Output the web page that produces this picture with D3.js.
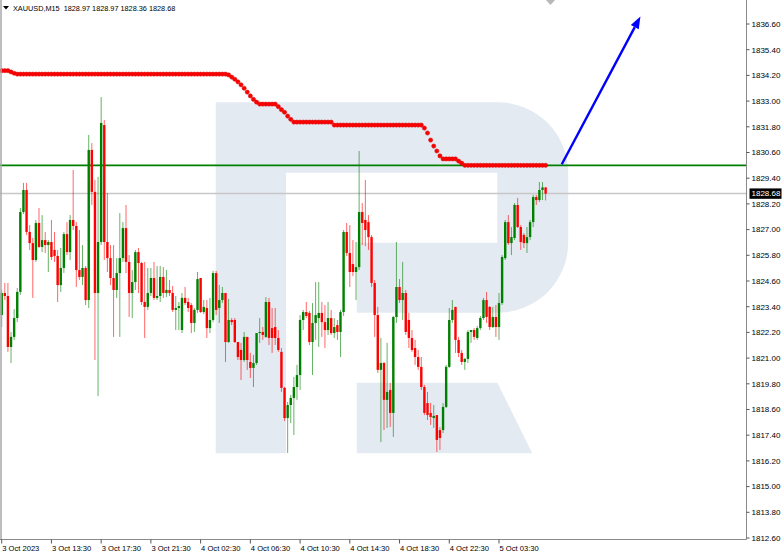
<!DOCTYPE html>
<html><head><meta charset="utf-8">
<script src="https://cdn.jsdelivr.net/npm/d3@7"></script>
<style>
html,body{margin:0;padding:0;background:#fff;}
svg text{font-family:"Liberation Sans",Arial,sans-serif;fill:#000;}
</style></head>
<body><svg id="c" width="782" height="556"></svg>
<script>
// ---- data ----
const symbolTitle = "XAUUSD,M15  1828.97 1828.97 1828.36 1828.68";
const opens = [
1823.01,1824.04,1823.90,1821.52,1821.99,1822.87,1824.09,1827.82,1828.85,1826.89,
1826.37,1825.58,1827.31,1826.19,1826.51,1826.28,1826.42,1826.05,1825.77,1824.41,
1825.21,1826.79,1825.95,1827.45,1827.17,1825.11,1824.79,1825.21,1823.71,1830.72,
1828.76,1824.04,1826.42,1831.88,1826.42,1825.67,1824.74,1824.18,1824.97,1825.67,
1827.07,1825.49,1824.04,1824.55,1825.95,1825.44,1823.62,1823.39,1824.04,1824.74,
1823.81,1823.90,1824.79,1824.04,1824.18,1824.04,1823.25,1823.34,1822.31,1823.81,
1823.62,1823.48,1822.64,1823.25,1824.74,1823.15,1823.34,1822.40,1822.78,1824.97,
1823.34,1823.71,1824.04,1821.75,1822.78,1822.78,1821.75,1821.38,1820.91,1821.99,
1820.82,1820.54,1820.77,1822.17,1822.22,1821.99,1823.62,1822.40,1822.45,1821.94,
1821.29,1819.61,1818.20,1818.81,1819.14,1819.65,1820.21,1822.78,1823.15,1823.11,
1821.75,1822.64,1822.87,1823.11,1822.68,1822.31,1822.87,1822.17,1822.54,1822.22,
1823.15,1826.89,1825.91,1825.39,1825.02,1825.25,1827.82,1827.45,1827.35,1826.65,
1824.51,1823.01,1820.45,1820.77,1819.05,1819.51,1818.44,1822.92,1824.32,1823.71,
1824.04,1822.78,1821.94,1821.47,1821.05,1820.59,1819.65,1818.90,1818.44,1818.20,
1818.34,1817.64,1817.64,1818.72,1820.59,1822.78,1823.39,1821.85,1821.24,1820.82,
1820.96,1822.22,1822.31,1821.94,1822.40,1822.87,1823.71,1823.39,1822.45,1822.92,
1822.45,1823.57,1825.67,1827.35,1826.37,1826.61,1828.15,1827.12,1826.75,1826.37,
1826.65,1827.35,1828.52,1828.38,1828.85,1828.97];
const highs = [
1824.18,1824.51,1824.51,1822.22,1823.29,1824.27,1828.01,1829.18,1829.18,1827.21,
1826.61,1827.45,1828.01,1827.68,1826.89,1826.51,1827.45,1826.89,1826.05,1826.14,
1826.89,1827.35,1827.68,1829.78,1827.35,1826.98,1826.28,1825.30,1831.42,1831.04,
1829.32,1829.46,1833.19,1832.12,1828.71,1826.28,1826.28,1825.67,1827.77,1827.35,
1828.15,1825.81,1825.11,1826.05,1826.14,1825.49,1825.49,1825.21,1825.21,1825.49,
1825.30,1825.30,1825.25,1825.11,1824.65,1824.37,1823.90,1823.62,1824.04,1824.32,
1823.81,1823.57,1823.34,1825.02,1824.74,1823.71,1823.71,1823.81,1825.07,1825.07,
1824.41,1824.32,1824.04,1823.76,1822.87,1822.87,1821.75,1821.71,1822.22,1821.99,
1821.24,1821.15,1822.17,1822.87,1822.45,1823.85,1823.81,1823.34,1823.34,1822.31,
1821.47,1819.65,1818.95,1819.28,1820.12,1820.68,1823.01,1823.25,1823.62,1823.20,
1823.57,1824.55,1824.55,1823.62,1823.48,1823.62,1823.25,1822.87,1822.78,1823.25,
1826.98,1827.31,1827.21,1826.51,1826.42,1830.67,1828.24,1829.32,1827.68,1826.75,
1824.65,1823.39,1821.94,1820.82,1821.71,1819.84,1822.97,1826.42,1824.69,1825.49,
1824.18,1823.11,1822.31,1821.85,1821.38,1821.05,1819.75,1819.42,1818.90,1818.81,
1818.34,1817.78,1818.90,1820.68,1823.34,1823.71,1823.39,1821.99,1821.38,1821.01,
1822.31,1822.31,1822.40,1822.50,1822.97,1823.81,1824.09,1823.43,1823.39,1823.48,
1824.04,1825.81,1827.45,1827.68,1827.12,1828.24,1828.48,1827.21,1826.84,1827.12,
1827.45,1828.62,1828.62,1829.22,1829.22,1828.97];
const lows = [
1822.45,1823.71,1821.29,1820.77,1821.85,1822.68,1823.95,1827.73,1826.75,1826.05,
1823.81,1825.49,1826.14,1825.95,1825.91,1825.02,1825.58,1825.49,1823.62,1824.09,
1824.97,1825.81,1825.58,1826.98,1824.32,1824.65,1824.41,1823.48,1823.34,1828.15,
1820.91,1819.23,1826.28,1825.58,1825.02,1824.41,1821.99,1823.81,1821.99,1825.49,
1824.97,1822.92,1822.87,1824.18,1824.04,1823.48,1821.94,1823.25,1823.90,1823.71,
1823.71,1823.62,1823.81,1823.85,1823.90,1823.15,1822.31,1822.31,1822.17,1823.48,
1823.15,1822.17,1822.22,1823.11,1823.11,1823.06,1821.94,1822.17,1822.68,1823.01,
1822.64,1823.57,1820.82,1821.71,1822.54,1821.71,1820.91,1819.98,1820.82,1820.45,
1820.07,1819.65,1820.68,1821.71,1821.85,1821.94,1821.61,1821.24,1821.61,1821.29,
1819.42,1818.06,1816.57,1817.97,1817.41,1819.05,1819.51,1822.31,1822.87,1821.61,
1820.21,1821.85,1821.52,1821.99,1821.47,1822.08,1822.08,1821.94,1821.85,1821.05,
1822.97,1825.77,1824.32,1824.83,1823.71,1825.11,1826.28,1826.23,1826.05,1824.32,
1821.99,1820.31,1817.08,1817.64,1817.74,1817.78,1817.32,1822.64,1823.57,1822.78,
1822.08,1821.47,1821.29,1820.68,1820.45,1819.51,1818.34,1818.11,1817.88,1817.74,
1816.62,1816.71,1817.50,1818.67,1820.54,1822.64,1821.24,1821.05,1820.68,1820.45,
1820.77,1821.71,1821.85,1821.85,1822.31,1822.78,1822.64,1822.31,1822.40,1821.99,
1821.85,1823.48,1825.58,1826.28,1825.81,1826.51,1827.07,1826.05,1826.14,1825.91,
1826.51,1827.12,1828.15,1828.29,1828.38,1828.36];
const closes = [
1824.04,1823.90,1821.52,1821.99,1822.87,1824.09,1827.82,1828.85,1826.89,1826.37,
1825.58,1827.31,1826.19,1826.51,1826.28,1826.42,1825.72,1825.77,1824.41,1825.21,
1826.79,1825.95,1827.45,1827.17,1825.11,1824.79,1825.21,1823.71,1830.72,1828.76,
1824.04,1826.42,1831.98,1826.42,1825.67,1824.74,1824.18,1824.97,1825.67,1827.07,
1825.49,1824.04,1824.55,1825.95,1825.44,1823.62,1823.39,1824.04,1824.74,1823.81,
1823.90,1824.79,1824.04,1824.18,1824.04,1823.25,1823.34,1823.43,1823.81,1823.57,
1823.34,1822.64,1823.25,1824.69,1823.15,1823.39,1822.40,1822.78,1824.97,1823.25,
1823.71,1824.04,1821.75,1822.78,1822.68,1821.75,1821.05,1820.91,1821.99,1820.91,
1820.54,1820.77,1822.17,1822.22,1822.08,1823.62,1821.94,1821.94,1821.94,1821.38,
1819.61,1818.20,1818.81,1819.14,1819.65,1820.21,1822.78,1823.15,1822.97,1821.75,
1822.64,1823.01,1823.11,1822.68,1822.31,1822.87,1822.17,1822.45,1822.22,1823.15,
1826.89,1825.91,1825.02,1825.02,1825.25,1827.82,1827.31,1826.98,1826.65,1824.51,
1823.01,1820.45,1820.77,1819.05,1819.42,1818.44,1822.92,1824.32,1823.71,1824.04,
1822.22,1821.94,1821.38,1821.05,1820.59,1819.65,1818.44,1818.34,1818.25,1818.30,
1817.18,1817.27,1818.72,1820.59,1822.78,1823.25,1821.85,1821.24,1820.82,1820.96,
1822.22,1822.31,1821.99,1822.40,1822.87,1823.71,1822.92,1822.45,1822.92,1822.45,
1823.57,1825.72,1827.35,1826.37,1826.65,1828.15,1827.12,1826.42,1826.37,1826.65,
1827.35,1828.52,1828.38,1828.85,1828.97,1828.68];
// trailing indicator (red dots), one value per bar
const indicator = [
1834.42,1834.42,1834.42,1834.36,1834.30,1834.26,1834.26,1834.26,1834.26,1834.26,
1834.26,1834.26,1834.26,1834.26,1834.26,1834.26,1834.26,1834.26,1834.26,1834.26,
1834.26,1834.26,1834.26,1834.26,1834.26,1834.26,1834.26,1834.26,1834.26,1834.26,
1834.26,1834.26,1834.26,1834.26,1834.26,1834.26,1834.26,1834.26,1834.26,1834.26,
1834.26,1834.26,1834.26,1834.26,1834.26,1834.26,1834.26,1834.26,1834.26,1834.26,
1834.26,1834.26,1834.26,1834.26,1834.26,1834.26,1834.26,1834.26,1834.26,1834.26,
1834.26,1834.26,1834.26,1834.26,1834.26,1834.26,1834.26,1834.26,1834.26,1834.26,
1834.26,1834.26,1834.26,1834.22,1834.12,1834.02,1833.90,1833.76,1833.60,1833.42,
1833.24,1833.08,1832.95,1832.86,1832.86,1832.86,1832.86,1832.86,1832.86,1832.74,
1832.60,1832.48,1832.30,1832.15,1832.02,1832.02,1832.02,1832.02,1832.02,1832.02,
1832.02,1832.02,1832.02,1832.02,1832.02,1832.02,1832.02,1831.88,1831.88,1831.88,
1831.88,1831.88,1831.88,1831.88,1831.88,1831.88,1831.88,1831.88,1831.88,1831.88,
1831.88,1831.88,1831.88,1831.88,1831.88,1831.88,1831.88,1831.88,1831.88,1831.88,
1831.88,1831.88,1831.88,1831.88,1831.88,1831.88,1831.74,1831.51,1831.18,1830.90,
1830.67,1830.44,1830.30,1830.30,1830.30,1830.30,1830.30,1830.20,1830.10,1830.00,
1830.00,1830.00,1830.00,1830.00,1830.00,1830.00,1830.00,1830.00,1830.00,1830.00,
1830.00,1830.00,1830.00,1830.00,1830.00,1830.00,1830.00,1830.00,1830.00,1830.00,
1830.00,1830.00,1830.00,1830.00,1830.00,1830.00];
const levelPrice = 1830.00;      // green horizontal level
const currentPrice = 1828.68;    // last price line
const arrowFrom = [180.2, 1830.05]; // [bar index, price]
const arrowTo = [205.5, 1836.95];
const priceTicks = [1812.60,1813.80,1815.00,1816.20,1817.40,1818.60,1819.80,1821.00,1822.20,1823.40,1824.60,1825.80,1827.00,1828.20,1829.40,1830.60,1831.80,1833.00,1834.20,1835.40,1836.60];
const timeTickIdx = [0,16,32,48,64,80,96,112,128,144,160];
const timeTickLabels = ["3 Oct 2023","3 Oct 13:30","3 Oct 17:30","3 Oct 21:30","4 Oct 02:30","4 Oct 06:30","4 Oct 10:30","4 Oct 14:30","4 Oct 18:30","4 Oct 22:30","5 Oct 03:30"];

// ---- layout ----
const W = 782, H = 556;
const plotRight = 746.5, plotBottom = 539.5;
const x = d3.scaleLinear().domain([0,160]).range([1.7, 499]);
const y = d3.scaleLinear().domain([1812.6, 1836.6]).range([538, 24]);
const svg = d3.select("#c");
svg.append("rect").attr("width",W).attr("height",H).attr("fill","#fff");

// watermark logo
const wm = svg.append("g").attr("fill","#e4eaf2");
wm.append("rect").attr("x",215.7).attr("y",102.3).attr("width",70.3).attr("height",351);
wm.append("path").attr("d","M286,102.3 H498 A70.2,70.2 0 0 1 568.2,172.5 V242.5 A70.2,70.2 0 0 1 498,312.7 H356.7 V242.7 H497.3 V172.7 H286 Z");
wm.append("path").attr("d","M356.7,382.7 H497.3 L532.3,453.3 H356.7 Z");

// current price line
svg.append("line").attr("x1",0).attr("x2",plotRight).attr("y1",y(currentPrice)).attr("y2",y(currentPrice))
  .attr("stroke","#c8c8c8").attr("stroke-width",1.5);
// green level
svg.append("line").attr("x1",0).attr("x2",plotRight).attr("y1",y(levelPrice)).attr("y2",y(levelPrice))
  .attr("stroke","#008000").attr("stroke-width",1.8);

// candles
const bars = opens.map((o,i)=>({i,o,h:highs[i],l:lows[i],c:closes[i]}));
const cg = svg.append("g");
const bull = "#008000", bear = "#ff0000";
cg.selectAll("line.w").data(bars).join("line").attr("class","w")
  .attr("x1",d=>x(d.i)).attr("x2",d=>x(d.i)).attr("y1",d=>y(d.h)).attr("y2",d=>y(d.l))
  .attr("stroke",d=>d.c>=d.o?bull:bear).attr("stroke-width",1).attr("stroke-opacity",0.6);
cg.selectAll("rect.b").data(bars).join("rect").attr("class","b")
  .attr("x",d=>x(d.i)-1.2).attr("width",2.4)
  .attr("y",d=>y(Math.max(d.o,d.c)))
  .attr("height",d=>Math.max(1,Math.abs(y(d.o)-y(d.c))))
  .attr("fill",d=>d.c>=d.o?bull:bear);

// indicator dots
svg.append("g").selectAll("circle").data(indicator).join("circle")
  .attr("cx",(d,i)=>x(i)).attr("cy",d=>y(d)).attr("r",2.1)
  .attr("fill","#ff0000").attr("stroke","#d40000").attr("stroke-width",0.5);

// arrow
const ax1 = x(arrowFrom[0]), ay1 = y(arrowFrom[1]), ax2 = x(arrowTo[0]), ay2 = y(arrowTo[1]);
const ang = Math.atan2(ay2-ay1, ax2-ax1);
const hl = 12, hw = 4.5;
const bx = ax2 - hl*Math.cos(ang), by = ay2 - hl*Math.sin(ang);
svg.append("line").attr("x1",ax1).attr("y1",ay1).attr("x2",bx).attr("y2",by)
  .attr("stroke","#0000ff").attr("stroke-width",2.4);
svg.append("path").attr("fill","#0000ff")
  .attr("d",`M${ax2},${ay2} L${bx + hw*Math.sin(ang)},${by - hw*Math.cos(ang)} L${bx - hw*Math.sin(ang)},${by + hw*Math.cos(ang)} Z`);

// frame
svg.append("line").attr("x1",1).attr("x2",1).attr("y1",0).attr("y2",plotBottom).attr("stroke","#a8a8a8").attr("stroke-width",1.5);
svg.append("line").attr("x1",plotRight).attr("x2",plotRight).attr("y1",0).attr("y2",plotBottom).attr("stroke","#8a8a8a").attr("stroke-width",1);
svg.append("line").attr("x1",0).attr("x2",plotRight).attr("y1",plotBottom).attr("y2",plotBottom).attr("stroke","#8a8a8a").attr("stroke-width",1);

// shift marker
svg.append("path").attr("d","M546,0 L555,0 L550.5,5 Z").attr("fill","#b8b8b8");

// price axis
const pa = svg.append("g");
priceTicks.forEach(p=>{
  pa.append("line").attr("x1",plotRight).attr("x2",plotRight+3).attr("y1",y(p)).attr("y2",y(p)).attr("stroke","#555");
  pa.append("text").attr("x",751.5).attr("y",y(p)).attr("dy","0.35em").attr("font-size",8).text(p.toFixed(2));
});
// current price box
pa.append("rect").attr("x",749.5).attr("y",y(currentPrice)-5.2).attr("width",32).attr("height",10.4).attr("fill","#000");
pa.append("text").attr("x",751.5).attr("y",y(currentPrice)).attr("dy","0.35em").attr("font-size",8).style("fill","#fff").text(currentPrice.toFixed(2));

// time axis
const ta = svg.append("g");
timeTickIdx.forEach((t,k)=>{
  ta.append("line").attr("x1",x(t)).attr("x2",x(t)).attr("y1",plotBottom).attr("y2",plotBottom+4).attr("stroke","#555");
  ta.append("text").attr("x",x(t)+0.5).attr("y",551).attr("font-size",7.6).text(timeTickLabels[k]);
});

// header
svg.append("path").attr("d","M3,6 L9,6 L6,9.5 Z").attr("fill","#000");
svg.append("text").attr("x",13).attr("y",11).attr("font-size",7.3).attr("xml:space","preserve").text(symbolTitle);
</script></body></html>
